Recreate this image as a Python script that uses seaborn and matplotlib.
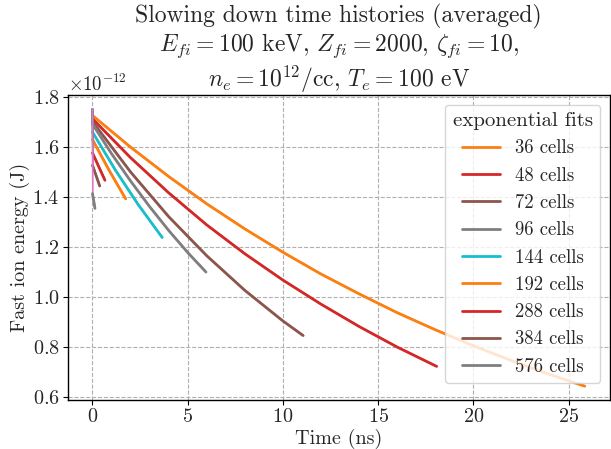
import matplotlib
matplotlib.use("Agg")
import matplotlib.pyplot as plt
import seaborn as sns
import numpy as np

# cell counts in the run set
cells = [36, 48, 72, 96, 144, 192, 288, 384, 576]

# exponential fit curves (time in ns, energy in 1e-12 J)
fit_t = [
    [0, 2, 4, 6, 8, 10, 12, 14, 16, 18, 20, 22, 24, 25.85],
    [0, 2, 4, 6, 8, 10, 12, 14, 16, 18.07],
    [0, 2, 4, 6, 8, 10, 11.06],
    [0, 1, 2, 3, 4, 5, 5.96],
    [0, 1.2, 2.4, 3.66],
    [0, 0.87, 1.74],
    [0, 0.655],
    [0, 0.38],
    [0, 0.13],
]
fit_e = [
    [1.724, 1.598, 1.481, 1.372, 1.272, 1.179, 1.092, 1.013, 0.938, 0.870,
     0.806, 0.747, 0.692, 0.645],
    [1.711, 1.556, 1.416, 1.288, 1.173, 1.068, 0.972, 0.883, 0.801, 0.724],
    [1.70, 1.499, 1.321, 1.165, 1.027, 0.905, 0.847],
    [1.69, 1.572, 1.463, 1.361, 1.266, 1.178, 1.100],
    [1.658, 1.507, 1.369, 1.238],
    [1.628, 1.506, 1.392],
    [1.575, 1.466],
    [1.526, 1.443],
    [1.413, 1.354],
]
# averaged data start at this energy at t=0 then drop onto the fit
e_start = 1.75

sns.set_style("ticks", {"axes.grid": True, "grid.linestyle": "--"})
plt.rcParams["font.family"] = "serif"
plt.rcParams["font.serif"] = ["cmr10", "DejaVu Serif"]
plt.rcParams["mathtext.fontset"] = "cm"
plt.rcParams["axes.formatter.use_mathtext"] = True
plt.rcParams["axes.unicode_minus"] = True

fig = plt.figure(figsize=(6.11, 4.49), dpi=100)
ax = fig.add_axes([0.111, 0.109, 0.887, 0.679])

pal = sns.color_palette("tab10")
for i, n in enumerate(cells):
    dcol = pal[(2 * i) % 10]
    fcol = pal[(2 * i + 1) % 10]
    dt = [0] + [t + 0.02 for t in fit_t[i]]
    de = [e_start] + fit_e[i]
    sns.lineplot(x=np.array(dt), y=np.array(de) * 1e-12, color=dcol, lw=1.2,
                 estimator=None, sort=False, ax=ax)
    sns.lineplot(x=np.array(fit_t[i]), y=np.array(fit_e[i]) * 1e-12, color=fcol,
                 lw=2, estimator=None, sort=False, label=f"{n} cells", ax=ax)

ax.grid(True, ls="--", color="#b0b0b0", lw=0.8)
for s in ax.spines.values():
    s.set_color("black")
    s.set_linewidth(1)
ax.tick_params(labelsize=14.5, color="black", length=3.5, pad=2.5)
ax.set_xticks([0, 5, 10, 15, 20, 25])
ax.set_yticks(np.arange(0.6, 1.81, 0.2) * 1e-12)
ax.yaxis.get_offset_text().set_fontsize(13.5)
ax.set_xlabel("Time (ns)", fontsize=14.5, labelpad=1.5)
ax.set_ylabel("Fast ion energy (J)", fontsize=14.5, labelpad=2)
ax.set_title("Slowing down time histories (averaged)\n"
             r"$E_{fi} = 100$ keV, $Z_{fi} = 2000$, $\zeta_{fi} = 10$," "\n"
             r"$n_e = 10^{12}$/cc, $T_e = 100$ eV", fontsize=17, linespacing=1.15)
ax.legend(title="exponential fits", loc="upper right", fontsize=13.5,
          title_fontsize=15, framealpha=0.8, labelspacing=0.5)

fig.savefig("out.png", dpi=100)
